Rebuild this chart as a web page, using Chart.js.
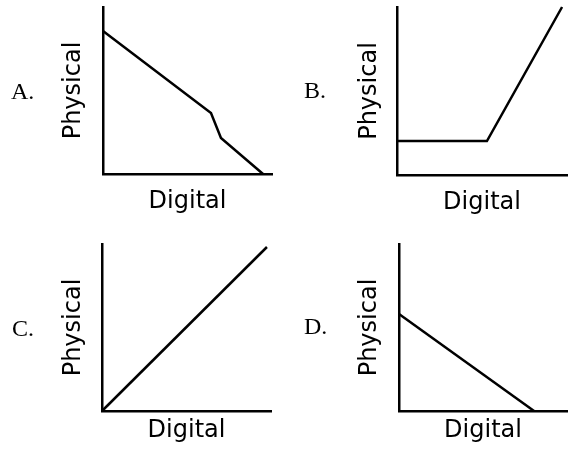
<!DOCTYPE html>
<html>
<head>
<meta charset="utf-8">
<script src="https://cdn.jsdelivr.net/npm/chart.js@4/dist/chart.umd.min.js"></script>
<style>
  html, body { margin: 0; padding: 0; background: #fff; }
  #wrap { position: relative; width: 572px; height: 456px; overflow: hidden; background: #fff; }
  .panel { position: absolute; width: 286px; height: 228px; }
  .letter { position: absolute; font-family: "Liberation Serif", serif; font-size: 24px; line-height: 1; color: #000; }
</style>
</head>
<body>
<div id="wrap">
  <div class="panel" style="left:0;top:0"><canvas id="cA" width="286" height="228"></canvas></div>
  <div class="panel" style="left:286px;top:0"><canvas id="cB" width="286" height="228"></canvas></div>
  <div class="panel" style="left:0;top:228px"><canvas id="cC" width="286" height="228"></canvas></div>
  <div class="panel" style="left:286px;top:228px"><canvas id="cD" width="286" height="228"></canvas></div>
  <div class="letter" style="left:11px;top:79px">A.</div>
  <div class="letter" style="left:304px;top:78px">B.</div>
  <div class="letter" style="left:12px;top:316px">C.</div>
  <div class="letter" style="left:304px;top:314px">D.</div>
</div>
<script>
// ---- data (relative units, 0..100 on each axis) ----
const panelLetters = ["A.", "B.", "C.", "D."];
const xAxisTitle = "Digital";
const yAxisTitle = "Physical";

const aDigital  = [0, 63.9, 69.8, 94.7];
const aPhysical = [85.6, 36.5, 21.6, 0];

const bDigital  = [0, 52.9, 97.1];
const bPhysical = [20.2, 20.2, 100];

const cDigital  = [0, 97.6];
const cPhysical = [0, 98.2];

const dDigital  = [0, 80.4];
const dPhysical = [58.1, 0];

// ---- layout (canvas coordinates of each panel) ----
const W = 286, H = 228;
const TITLE_FONT = 24, LH = TITLE_FONT * 1.2;
const LINE_W = 2.5;

function makePanel(id, xs, ys, area, physX, digY) {
  const padLeft = physX - LH / 2;
  const padBottom = H - digY - LH / 2;
  const pts = xs.map((x, i) => ({ x: x, y: ys[i] }));
  new Chart(document.getElementById(id), {
    type: 'line',
    data: {
      datasets: [{
        data: pts,
        borderColor: '#000',
        borderWidth: LINE_W,
        pointRadius: 0,
        tension: 0,
        fill: false,
        clip: false
      }]
    },
    options: {
      responsive: false,
      animation: false,
      devicePixelRatio: 1,
      layout: { padding: { left: padLeft, top: area.top, right: W - area.right, bottom: padBottom } },
      plugins: { legend: { display: false }, tooltip: { enabled: false } },
      scales: {
        x: {
          type: 'linear', min: 0, max: 100,
          ticks: { display: false },
          grid: { display: false },
          border: { display: true, color: '#000', width: LINE_W },
          title: { display: true, text: xAxisTitle, color: '#000', padding: 0,
                   font: { family: "DejaVu Sans", size: TITLE_FONT, lineHeight: 1.2 } },
          afterFit: (s) => { s.height = H - padBottom - area.bottom; }
        },
        y: {
          type: 'linear', min: 0, max: 100,
          ticks: { display: false },
          grid: { display: false },
          border: { display: true, color: '#000', width: LINE_W },
          title: { display: true, text: yAxisTitle, color: '#000', padding: 0,
                   font: { family: "DejaVu Sans", size: TITLE_FONT, lineHeight: 1.2 } },
          afterFit: (s) => { s.width = area.left - padLeft; }
        }
      }
    }
  });
}

makePanel('cA', aDigital, aPhysical, { left: 103, top: 7, right: 272, bottom: 174 }, 74, 202);
makePanel('cB', bDigital, bPhysical, { left: 111, top: 7, right: 281, bottom: 175 }, 84, 203);
makePanel('cC', cDigital, cPhysical, { left: 102, top: 16, right: 271, bottom: 183 }, 74, 203);
makePanel('cD', dDigital, dPhysical, { left: 113, top: 16, right: 281, bottom: 183 }, 84, 203);
</script>
</body>
</html>
